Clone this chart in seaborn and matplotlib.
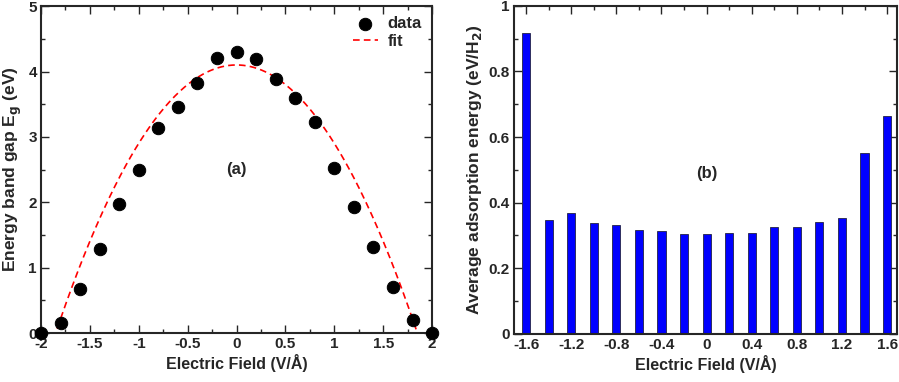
import numpy as np
import pandas as pd
import matplotlib
matplotlib.use("Agg")
import matplotlib.pyplot as plt
from matplotlib.ticker import MultipleLocator
import seaborn as sns

# ---- data ----
field_a = [-2.0, -1.8, -1.6, -1.4, -1.2, -1.0, -0.8, -0.6, -0.4, -0.2, 0.0,
           0.2, 0.4, 0.6, 0.8, 1.0, 1.2, 1.4, 1.6, 1.8, 2.0]
band_gap = [0.0, 0.16, 0.67, 1.28, 1.98, 2.50, 3.13, 3.46, 3.82, 4.20, 4.30,
            4.19, 3.89, 3.60, 3.23, 2.52, 1.93, 1.31, 0.70, 0.20, 0.0]
# quadratic fit coefficients (highest power first), estimated from the dashed curve
fit_coeffs = [-1.198, 0.0, 4.10]
fit_range = [-1.87, 1.87]

field_b = [-1.6, -1.4, -1.2, -1.0, -0.8, -0.6, -0.4, -0.2, 0.0,
           0.2, 0.4, 0.6, 0.8, 1.0, 1.2, 1.4, 1.6]
ads_energy = [0.918, 0.346, 0.368, 0.338, 0.331, 0.316, 0.314, 0.306, 0.306,
              0.307, 0.309, 0.326, 0.327, 0.340, 0.353, 0.551, 0.664]
tick_labels_b = ["-1.6", "-1.2", "-0.8", "-0.4", "0", "0.4", "0.8", "1.2", "1.6"]

sns.set_style("ticks")
plt.rcParams["font.family"] = ["Liberation Sans", "DejaVu Sans"]
plt.rcParams["font.weight"] = "bold"
plt.rcParams["axes.labelweight"] = "bold"
plt.rcParams["font.size"] = 11

fig = plt.figure(figsize=(8.99, 3.82), dpi=100)
ax1 = fig.add_axes([0.0456, 0.128, 0.435, 0.856])
ax2 = fig.add_axes([0.5718, 0.126, 0.426, 0.8586])

# ---- panel (a) ----
xf = np.linspace(fit_range[0], fit_range[1], 300)
fit_df = pd.DataFrame({"x": xf, "y": np.polyval(fit_coeffs, xf)})
sns.lineplot(data=fit_df, x="x", y="y", ax=ax1, color="red", linestyle=(0, (4, 2.5)),
             linewidth=1.2, label="fit", zorder=2)
df_a = pd.DataFrame({"field": field_a, "gap": band_gap})
sns.scatterplot(data=df_a, x="field", y="gap", ax=ax1, color="black", s=80,
                edgecolor="black", label="data", zorder=3, clip_on=False)
ax1.set_xlim(-2, 2)
ax1.set_ylim(0, 5)
ax1.xaxis.set_major_locator(MultipleLocator(0.5))
ax1.xaxis.set_minor_locator(MultipleLocator(0.25))
ax1.yaxis.set_major_locator(MultipleLocator(1))
ax1.yaxis.set_minor_locator(MultipleLocator(0.5))
ax1.set_xticklabels([f"{v:g}" for v in ax1.get_xticks()])
ax1.set_xlabel("Electric Field (V/Å)", labelpad=2, fontsize=11.5)
ax1.set_ylabel("Energy band gap E$_\\mathbf{g}$ (eV)", labelpad=3, fontsize=12.5)
ax1.text(0, 2.5, "(a)", ha="center", va="center", fontsize=12, fontweight="bold")
handles, labels = ax1.get_legend_handles_labels()
ax1.legend([handles[1], handles[0]], [labels[1], labels[0]], loc="upper right",
           frameon=False, handlelength=1.5, borderaxespad=0.2, labelspacing=0.15,
           handletextpad=0.6, fontsize=12)

# ---- panel (b) ----
df_b = pd.DataFrame({"field": field_b, "energy": ads_energy})
sns.barplot(data=df_b, x="field", y="energy", ax=ax2, native_scale=True,
            color="#0000ff", saturation=1, width=0.36, edgecolor="#222244",
            linewidth=0.6)
ax2.set_xlim(-1.707, 1.688)
ax2.set_ylim(0, 1)
ax2.set_xticks([float(t) for t in tick_labels_b])
ax2.set_xticklabels(tick_labels_b)
ax2.xaxis.set_minor_locator(MultipleLocator(0.2))
ax2.yaxis.set_major_locator(MultipleLocator(0.2))
ax2.yaxis.set_minor_locator(MultipleLocator(0.1))
ax2.set_yticklabels([f"{v:g}" for v in ax2.get_yticks()])
ax2.set_xlabel("Electric Field (V/Å)", labelpad=2, fontsize=11.5)
ax2.set_ylabel("Average adsorption energy (eV/H$_\\mathbf{2}$)", labelpad=3, fontsize=12.5)
ax2.text(0, 0.49, "(b)", ha="center", va="center", fontsize=12, fontweight="bold")

for ax in (ax1, ax2):
    for s in ax.spines.values():
        s.set_linewidth(1.5)
        s.set_visible(True)
    ax.tick_params(which="both", direction="in", top=True, right=True)
    ax.tick_params(which="major", length=6, width=1, pad=3, labelsize=11)
    ax.tick_params(which="minor", length=3, width=1)

fig.savefig("out.png", dpi=100)
